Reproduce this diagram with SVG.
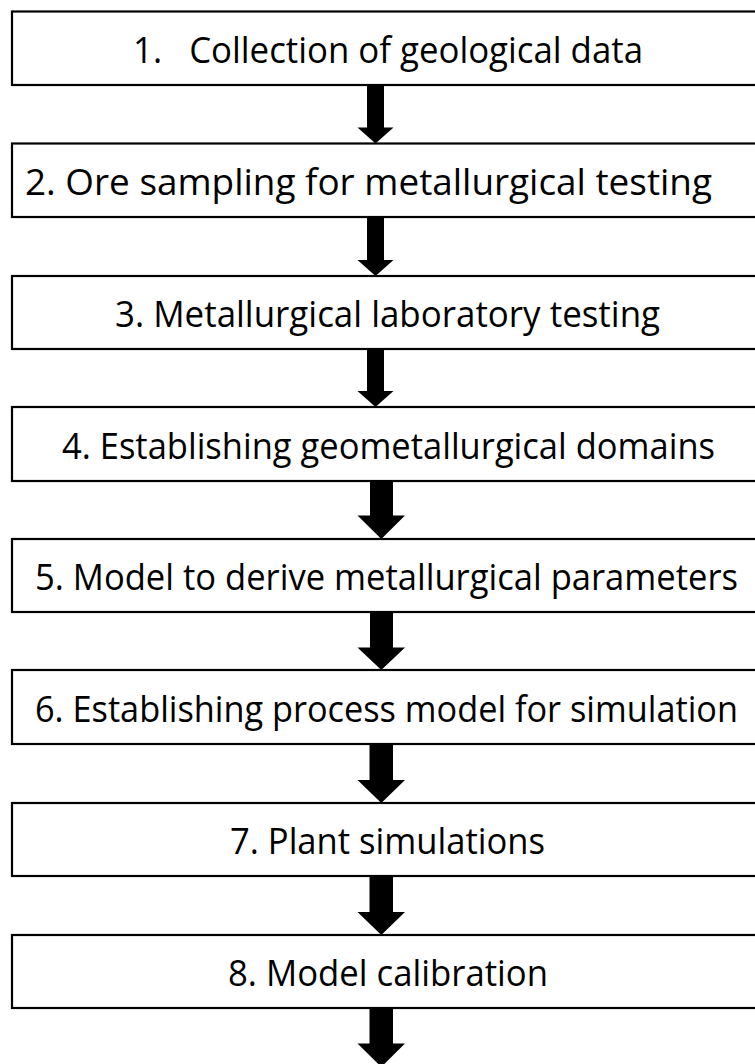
<svg xmlns="http://www.w3.org/2000/svg" width="755" height="1064" viewBox="0 0 755 1064">
<style>
.box{fill:#fff;stroke:#000;stroke-width:2.2}
.lbl{font-family:"Open Sans","Noto Sans",sans-serif;font-size:36px;fill:#000}
.arr{fill:#000}
</style>
<rect width="755" height="1064" fill="#fff"/>
<g id="connectors">
<polygon class="arr" points="367,85 384,85 384,127.5 393.5,127.5 375.5,143.5 357.5,127.5 367,127.5"/>
<polygon class="arr" points="367,217 384,217 384,260 393.5,260 375.5,276 357.5,260 367,260"/>
<polygon class="arr" points="367,349 384,349 384,391 393.5,391 375.5,407 357.5,391 367,391"/>
<polygon class="arr" points="370,481 393,481 393,515.5 405,515.5 381.3,539 357.5,515.5 370,515.5"/>
<polygon class="arr" points="370,612 393,612 393,647.5 405,647.5 381.3,670 357.5,647.5 370,647.5"/>
<polygon class="arr" points="369.5,744 393,744 393,780 405,780 381.3,803 357.5,780 369.5,780"/>
<polygon class="arr" points="369.5,876 393,876 393,912 405,912 381.3,935 357.5,912 369.5,912"/>
<polygon class="arr" points="369.5,1008 393,1008 393,1043.5 405,1043.5 381.3,1067 357.5,1043.5 369.5,1043.5"/>
</g>
<g id="n1"><rect class="box" x="12" y="11.5" width="745" height="73.5"/><text class="lbl" x="133" y="62.5" textLength="510" lengthAdjust="spacingAndGlyphs" xml:space="preserve">1.   Collection of geological data</text></g>
<g id="n2"><rect class="box" x="12" y="143.5" width="745" height="73.5"/><text class="lbl" x="25" y="194.5" textLength="687" lengthAdjust="spacingAndGlyphs">2. Ore sampling for metallurgical testing</text></g>
<g id="n3"><rect class="box" x="12" y="276" width="745" height="73"/><text class="lbl" x="115" y="327" textLength="545" lengthAdjust="spacingAndGlyphs">3. Metallurgical laboratory testing</text></g>
<g id="n4"><rect class="box" x="12" y="407" width="745" height="74"/><text class="lbl" x="62" y="458.5" textLength="653" lengthAdjust="spacingAndGlyphs">4. Establishing geometallurgical domains</text></g>
<g id="n5"><rect class="box" x="12" y="539" width="745" height="73"/><text class="lbl" x="35" y="590" textLength="703" lengthAdjust="spacingAndGlyphs">5. Model to derive metallurgical parameters</text></g>
<g id="n6"><rect class="box" x="12" y="670" width="745" height="74"/><text class="lbl" x="35" y="721.5" textLength="703" lengthAdjust="spacingAndGlyphs">6. Establishing process model for simulation</text></g>
<g id="n7"><rect class="box" x="12" y="803" width="745" height="73"/><text class="lbl" x="230" y="854" textLength="315" lengthAdjust="spacingAndGlyphs">7. Plant simulations</text></g>
<g id="n8"><rect class="box" x="12" y="935" width="745" height="73"/><text class="lbl" x="228" y="986" textLength="320" lengthAdjust="spacingAndGlyphs">8. Model calibration</text></g>
</svg>
